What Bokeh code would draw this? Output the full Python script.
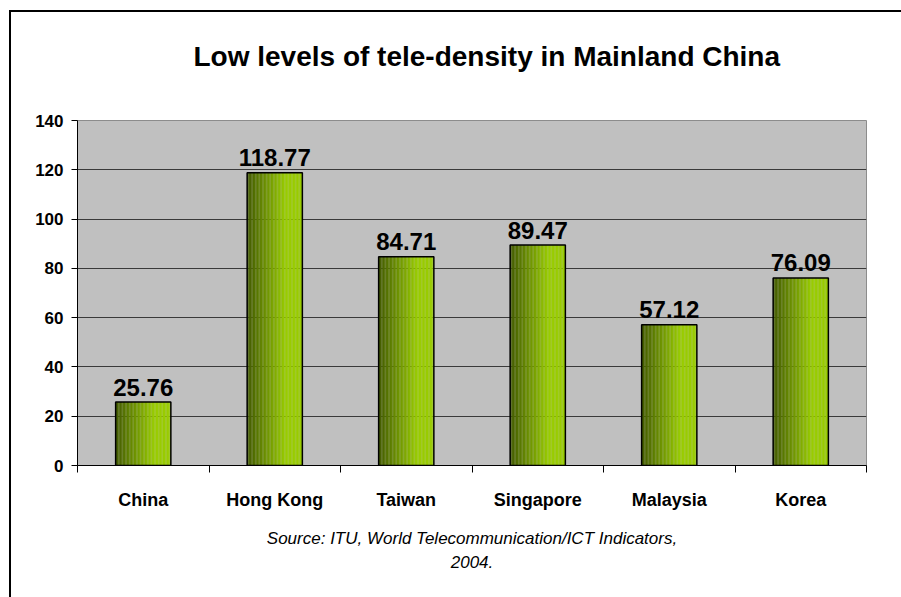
from bokeh.plotting import figure
from bokeh.models import FixedTicker, Range1d, Title
from bokeh.embed import file_html
from bokeh.resources import INLINE

# ---- data ----
countries = ["China", "Hong Kong", "Taiwan", "Singapore", "Malaysia", "Korea"]
density = [25.76, 118.77, 84.71, 89.47, 57.12, 76.09]
y_ticks = [0, 20, 40, 60, 80, 100, 120, 140]
title_text = "Low levels of tele-density in Mainland China"
source_lines = ["Source: ITU, World Telecommunication/ICT Indicators,", "2004."]

W, H = 901, 597
FL, FT, FB, FR = 77, 120, 465, 866   # plot frame edges in page pixels
FONT = "Liberation Sans"

p = figure(width=W, height=H, output_backend="svg", toolbar_location=None,
           x_range=Range1d(0, len(countries)), y_range=Range1d(0, 140),
           min_border_left=FL, min_border_right=W - FR, min_border_top=FT,
           min_border_bottom=H - FB)
# outer chart box (left and top edges) drawn as the page background behind a transparent border
p.border_fill_alpha = 0
p.styles = {
    "background-color": "white",
    "background-image": "linear-gradient(black, black), linear-gradient(black, black)",
    "background-size": "2px 600px, 900px 2px",
    "background-position": "9px 10px, 9px 10px",
    "background-repeat": "no-repeat",
    "border": "none",
    "outline": "none",
    "box-shadow": "none",
}
p.background_fill_color = "#C0C0C0"
p.outline_line_color = "#8C8C8C"
p.outline_line_width = 1

# axes
centers = [i + 0.5 for i in range(len(countries))]
p.xaxis.ticker = FixedTicker(ticks=centers, minor_ticks=list(range(len(countries) + 1)))
p.xaxis.major_label_overrides = {c: n for c, n in zip(centers, countries)}
p.xaxis.major_tick_line_color = None
p.xaxis.major_tick_out = 0
p.xaxis.major_tick_in = 0
p.xaxis.minor_tick_out = 7
p.xaxis.minor_tick_in = 0
p.xaxis.minor_tick_line_color = "black"
p.xaxis.axis_line_color = "black"
p.xaxis.major_label_standoff = 17
p.xaxis.major_label_text_font = FONT
p.xaxis.major_label_text_font_style = "bold"
p.xaxis.major_label_text_font_size = "18px"
p.xaxis.major_label_text_color = "black"

p.yaxis.ticker = FixedTicker(ticks=y_ticks)
p.yaxis.minor_tick_line_color = None
p.yaxis.major_tick_out = 6
p.yaxis.major_tick_in = 0
p.yaxis.major_tick_line_color = "black"
p.yaxis.axis_line_color = "black"
p.yaxis.major_label_standoff = 8
p.yaxis.major_label_text_font = FONT
p.yaxis.major_label_text_font_style = "bold"
p.yaxis.major_label_text_font_size = "17px"
p.yaxis.major_label_text_color = "black"

p.xgrid.grid_line_color = None
p.ygrid.ticker = FixedTicker(ticks=y_ticks)
p.ygrid.grid_line_color = "#3A3A3A"
p.ygrid.grid_line_width = 1

# bars with horizontal gradient (slices)
bar_w = 0.42
N = 40
dark = (66, 90, 0)
light = (153, 204, 0)
for k in range(N):
    t = (k + 0.5) / N
    f = min(1.0, t / 0.7)
    col = "#%02x%02x%02x" % tuple(int(round(d + (l - d) * f)) for d, l in zip(dark, light))
    xs = [c - bar_w / 2 + (k + 0.5) * bar_w / N for c in centers]
    p.vbar(x=xs, top=density, bottom=0, width=bar_w / N * 1.05,
           fill_color=col, line_color=None)
p.vbar(x=centers, top=density, bottom=0, width=bar_w, fill_color=None,
       line_color="black", line_width=1.5)

# value labels
p.text(x=centers, y=density, text=["%.2f" % v for v in density],
       text_align="center", text_baseline="alphabetic", y_offset=-15,
       text_font={"value": FONT}, text_font_style="bold",
       text_font_size={"value": "24px"}, text_color="black")

# title above (spacer keeps it high above the frame)
p.add_layout(Title(text=" ", text_font_size="1px", standoff=46), "above")
p.add_layout(Title(text=title_text, align="left", offset=193 - FL, standoff=0,
                   text_font=FONT, text_font_style="bold", text_font_size="28px",
                   text_color="black"), "above")
# source below
p.add_layout(Title(text=" ", text_font_size="1px", standoff=11), "below")
p.add_layout(Title(text=source_lines[0], align="center", standoff=0,
                   text_font=FONT, text_font_style="italic", text_font_size="17px",
                   text_color="black"), "below")
p.add_layout(Title(text=source_lines[1], align="center", standoff=12,
                   text_font=FONT, text_font_style="italic", text_font_size="17px",
                   text_color="black"), "below")

open("out.html", "w").write(file_html(p, INLINE))
